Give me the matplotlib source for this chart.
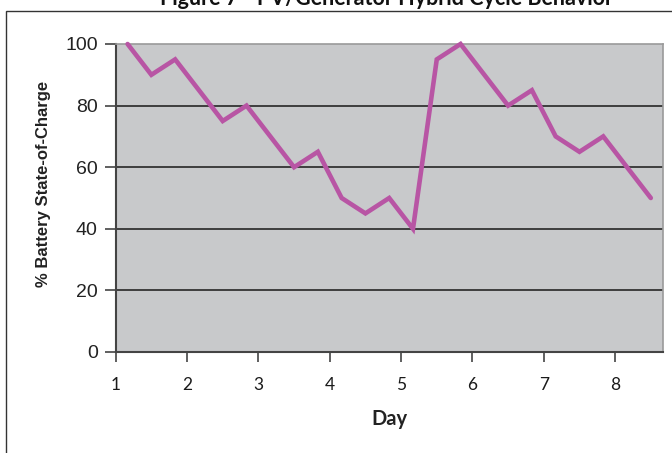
import matplotlib.pyplot as plt
import numpy as np
from matplotlib.patches import Rectangle

# State of charge sampled three times a day (8 days)
soc = [100, 90, 95, 85, 75, 80, 70, 60, 65, 50, 45, 50, 40,
       95, 100, 90, 80, 85, 70, 65, 70, 60, 50]
day_labels = ["1", "2", "3", "4", "5", "6", "7", "8"]

title = "Figure 7 - PV/Generator Hybrid Cycle Behavior"

fig = plt.figure(figsize=(6.72, 4.53), dpi=100)

# outer frame around the chart
fig.patches.append(Rectangle((6 / 672, -0.1), 1.0, 1.1 - 11 / 453,
                             transform=fig.transFigure, fill=False,
                             edgecolor='#333333', linewidth=1.0))

ax = fig.add_axes([115.7 / 672, 1 - 352 / 453, 547 / 672, 308 / 453])
ax.set_facecolor('#C8C9CB')

x = np.arange(len(soc)) + 0.5
ax.plot(x, soc, color='#B855A4', linewidth=3.3, solid_joinstyle='miter',
        solid_capstyle='round', clip_on=False, zorder=3)

ax.set_xlim(0, len(soc))
ax.set_ylim(0, 100)

ax.set_yticks(range(0, 101, 20))
ax.set_yticklabels([str(v) for v in range(0, 101, 20)],
                   fontsize=14, family='Liberation Sans', color='#222222')
for yv in range(20, 100, 20):
    ax.axhline(yv, color='#333333', linewidth=1.3, zorder=1)

ax.set_xticks(np.arange(0, len(soc), 3))
ax.set_xticklabels(day_labels, fontsize=12.5, family='Lato', color='#1a1a1a')
ax.tick_params(axis='y', direction='out', length=8, width=1.2,
               color='#444444', pad=5)
ax.tick_params(axis='x', direction='out', length=7, width=1.2,
               color='#444444', pad=11)

for side in ['left', 'bottom']:
    ax.spines[side].set_color('#444444')
    ax.spines[side].set_linewidth(1.5)
for side in ['top', 'right']:
    ax.spines[side].set_color('#9A9A9A')
    ax.spines[side].set_linewidth(1.2)

fig.text(44 / 672, 1 - 184 / 453, "% Battery State-of-Charge", rotation=90,
         ha='center', va='center', fontsize=12, fontweight='bold',
         family='Liberation Sans', color='#222222')
fig.text(389 / 672, 1 - 419 / 453, "Day", ha='center', va='center',
         fontsize=14.5, fontweight='bold', family='Lato', color='#222222')
fig.text(387 / 672, 1 - 5 / 453, title, ha='center', va='baseline',
         fontsize=15.5, fontweight='bold', family='Lato', color='#111111')

fig.savefig("out.png", dpi=100)
